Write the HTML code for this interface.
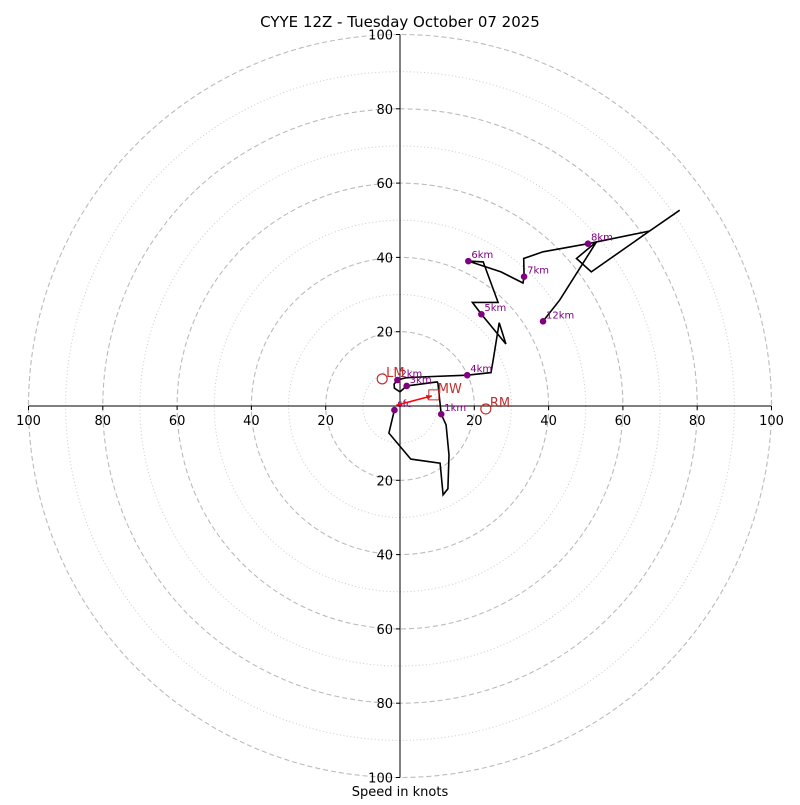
<!DOCTYPE html>
<html><head><meta charset="utf-8"><style>
body{margin:0;background:#fff}
svg text{font-family:"DejaVu Sans","Liberation Sans",sans-serif}
</style></head><body>
<svg id="c" width="800" height="800" viewBox="0 0 800 800">
<text x="400" y="27" text-anchor="middle" font-size="15">CYYE 12Z - Tuesday October 07 2025</text>
<text x="400" y="796" text-anchor="middle" font-size="13">Speed in knots</text>
<g id="g"></g>
</svg>
<script>
const ringValues=[10,20,30,40,50,60,70,80,90,100];
const tickValues=[20,40,60,80,100];
const windU=[-1.5,-3.0,2.9,10.8,11.6,12.9,13.2,12.4,11.1,10.2,10.0,1.8,0,-1.5,-1.6,-0.7,1.5,5.4,18.1,24.5,25.1,26.7,28.5,21.9,19.5,26.4,22.4,18.4,27.2,33.1,33.4,33.3,38.5,50.6,67.2,75.3,67.2,51.5,47.5,52.9,43.0,38.5];
const windV=[-1.1,-7.3,-14.3,-15.4,-23.9,-22.3,-13.2,-5.1,-2.2,6.2,6.5,5.4,3.8,4.8,5.9,7.0,7.6,7.8,8.3,9.0,12.4,22.4,16.7,24.7,27.9,27.9,38.8,39.0,36.1,33.1,34.8,39.7,41.5,43.7,47.1,52.7,47.1,36.1,39.7,44.2,28.5,22.8];
const markerLabels=["sfc","1km","2km","3km","4km","5km","6km","7km","8km","12km"];
const markerU=[-1.5,11.1,-0.7,1.8,18.1,21.9,18.4,33.4,50.6,38.5];
const markerV=[-1.1,-2.2,7.0,5.4,8.3,24.7,39.0,34.8,43.7,22.8];
const motionLabels=["LM","RM","MW"];
const motionU=[-4.8,23.1,9.1];
const motionV=[7.3,-0.8,3.0];
const CX=400,CY=406,S=3.715;
const px=u=>CX+u*S, py=v=>CY-v*S;
const g=document.getElementById('g');
const NS='http://www.w3.org/2000/svg';
function mk(t,a,p){const e=document.createElementNS(NS,t);for(const k in a)e.setAttribute(k,a[k]);(p||g).appendChild(e);return e;}
ringValues.forEach(r=>{
 const e=mk('circle',{cx:CX,cy:CY,r:r*S,fill:'none',stroke:r%20?'#ccc':'#bbb','stroke-width':r%20?1:1.1,'stroke-dasharray':r%20?'1,2.5':'5,3'});
 
 
});
let a=mk('line',{x1:px(-100),y1:CY,x2:px(100),y2:CY,stroke:'#000','stroke-width':1});


a=mk('line',{x1:CX,y1:py(100),x2:CX,y2:py(-100),stroke:'#000','stroke-width':1});


tickValues.forEach(t=>{
 [-1,1].forEach(s=>{
  const x=px(s*t);
  mk('line',{x1:x,y1:CY,x2:x,y2:CY+4,stroke:'#000'});
  const tx=mk('text',{x:x,y:CY+19,'text-anchor':'middle','font-size':13});tx.textContent=t;
  
  
  const y=py(s*t);
  mk('line',{x1:CX-4,y1:y,x2:CX,y2:y,stroke:'#000'});
  const ty=mk('text',{x:CX-7,y:y+5,'text-anchor':'end','font-size':13});ty.textContent=t;
  
  
 });
});
const pts=windU.map((u,i)=>px(u).toFixed(1)+','+py(windV[i]).toFixed(1)).join(' ');
const pl=mk('polyline',{points:pts,fill:'none',stroke:'#000','stroke-width':1.6,'stroke-linejoin':'miter'});


markerLabels.forEach((l,i)=>{
 const c=mk('circle',{cx:px(markerU[i]),cy:py(markerV[i]),r:3.3,fill:'purple'});
 
 
 const t=mk('text',{x:px(markerU[i])+3,y:py(markerV[i])-3,'font-size':10,fill:'purple'});t.textContent=l;
 
 
});
const ar=mk('line',{x1:px(-1),y1:py(0.2),x2:px(motionU[2])-2,y2:py(motionV[2])+1,stroke:'red','stroke-width':1.5});


const ax=px(motionU[2])-2, ay=py(motionV[2])+1;
mk('polygon',{points:`${ax},${ay} ${ax-6},${ay-1} ${ax-4},${ay+4}`,fill:'red'});
motionLabels.forEach((l,i)=>{
 const x=px(motionU[i]),y=py(motionV[i]);
 let m;
 if(l==='MW') m=mk('rect',{x:x-5,y:y-5,width:10,height:10,fill:'none',stroke:'#c03030','stroke-width':1});
 else m=mk('circle',{cx:x,cy:y,r:5,fill:'none',stroke:'#c03030','stroke-width':1.2});
 
 
 const t=mk('text',{x:x+4,y:y-2,'font-size':13,fill:'#c03030'});t.textContent=l;
 
 
});
</script>
</body></html>
